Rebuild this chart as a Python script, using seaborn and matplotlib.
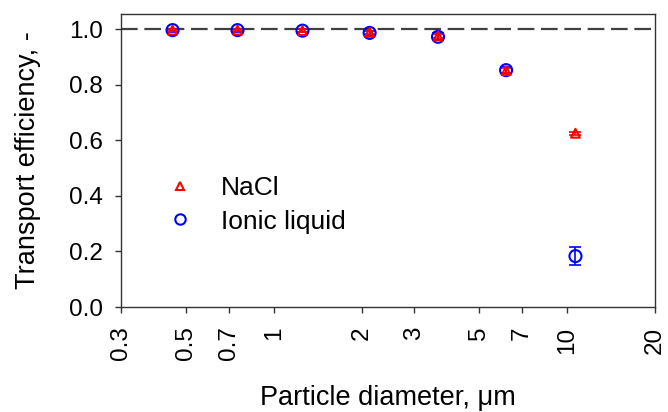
import matplotlib
matplotlib.use("Agg")
import matplotlib.pyplot as plt
import seaborn as sns
import pandas as pd
import numpy as np
from matplotlib.ticker import FixedLocator, NullLocator, FixedFormatter
from matplotlib.lines import Line2D

sns.set_theme(style="ticks")
plt.rcParams['font.family'] = ['Liberation Sans', 'DejaVu Sans']
plt.rcParams['text.color'] = 'black'
plt.rcParams['axes.labelcolor'] = 'black'

diameter = [0.45, 0.75, 1.25, 2.12, 3.63, 6.2, 10.7]
nacl_eff = [0.996, 0.996, 0.994, 0.988, 0.975, 0.850, 0.625]
nacl_err = [0.004, 0.004, 0.005, 0.006, 0.008, 0.008, 0.006]
il_eff = [0.996, 0.996, 0.994, 0.986, 0.972, 0.852, 0.183]
il_err = [0.005, 0.005, 0.006, 0.007, 0.012, 0.010, 0.032]
xticks = [0.3, 0.5, 0.7, 1, 2, 3, 5, 7, 10, 20]
xtick_labels = ["0.3", "0.5", "0.7", "1", "2", "3", "5", "7", "10", "20"]
yticks = [0.0, 0.2, 0.4, 0.6, 0.8, 1.0]

df = pd.DataFrame({
    "d": diameter * 2,
    "eff": nacl_eff + il_eff,
    "err": nacl_err + il_err,
    "series": ["NaCl"] * len(diameter) + ["Ionic liquid"] * len(diameter),
})

fig = plt.figure(figsize=(6.68, 4.12), dpi=100)
ax = fig.add_axes([121/668, 1 - 307/412, (655-121)/668, (307-14)/412])

ax.axhline(1.0, color="#404040", lw=1.6, ls=(0, (7.5, 3)), zorder=1)

colors = {"NaCl": "red", "Ionic liquid": "blue"}
for s in ["Ionic liquid", "NaCl"]:
    sub = df[df.series == s]
    ax.errorbar(sub.d, sub.eff, yerr=sub.err, fmt="none", ecolor=colors[s],
                elinewidth=1.2, capsize=4, capthick=1.2, zorder=2)

sns.scatterplot(data=df[df.series == "Ionic liquid"], x="d", y="eff", ax=ax,
                marker="o", s=75, facecolor="none", edgecolor="blue", linewidth=1.5,
                zorder=3, legend=False)
sns.scatterplot(data=df[df.series == "NaCl"], x="d", y="eff", ax=ax,
                marker="^", s=40, facecolor="none", edgecolor="red", linewidth=1.5,
                zorder=4, legend=False)

ax.set_xscale("log")
ax.set_xlim(0.3, 20)
ax.set_ylim(0, 1.054)
ax.xaxis.set_major_locator(FixedLocator(xticks))
ax.xaxis.set_major_formatter(FixedFormatter(xtick_labels))
ax.xaxis.set_minor_locator(NullLocator())
ax.set_yticks(yticks)
ax.set_yticklabels([f"{v:.1f}" for v in yticks])
ax.tick_params(axis="x", labelsize=17.5, rotation=90, direction="out", length=4, width=1, pad=10,
               colors="#333333", labelcolor="black")
ax.tick_params(axis="y", labelsize=17.5, direction="out", length=4, width=1, pad=9,
               colors="#333333", labelcolor="black")
for sp in ax.spines.values():
    sp.set_visible(True)
    sp.set_color("#333333")
    sp.set_linewidth(1.0)

ax.set_xlabel("Particle diameter, \u03bcm", fontsize=19.5, labelpad=18)
ax.set_ylabel("Transport efficiency, -", fontsize=19.5, labelpad=20)

handles = [Line2D([], [], ls="none", marker="^", mfc="none", mec="red", ms=6, mew=1.5),
           Line2D([], [], ls="none", marker="o", mfc="none", mec="blue", ms=7.5, mew=1.5)]
ax.legend(handles, ["NaCl", "Ionic liquid"], loc="upper left", bbox_to_anchor=(0.073, 0.446),
          frameon=False, fontsize=19, handletextpad=0.8, labelspacing=0.35, handlelength=1.5,
          borderpad=0, borderaxespad=0)

fig.savefig("out.png", dpi=100)
